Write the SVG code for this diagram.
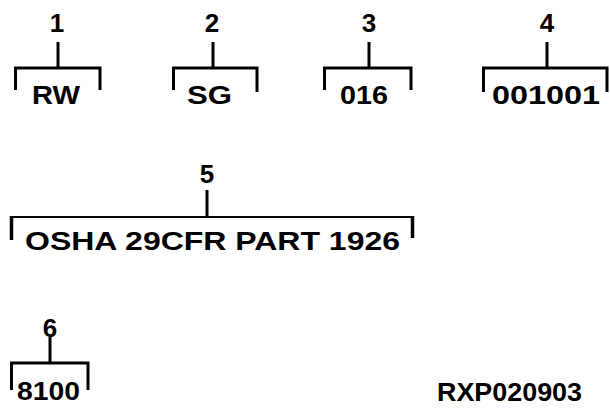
<svg xmlns="http://www.w3.org/2000/svg" width="610" height="409" viewBox="0 0 610 409">
<style>
text{font-family:"Liberation Sans",Arial,sans-serif;font-weight:bold;fill:#000}
.n{font-size:26px;text-anchor:middle}
.t{font-size:26px}
.br{fill:none;stroke:#000;stroke-width:3}
.leg{fill:none;stroke:#000;stroke-width:3.5}
.hz{stroke:#000;stroke-width:2}
.st{stroke:#000;stroke-width:3}
</style>
<rect width="610" height="409" fill="#fff"/>
<g id="connectors">
<line class="st" x1="58" y1="42" x2="58" y2="68"/>
<line class="st" x1="213" y1="42" x2="213" y2="68"/>
<line class="st" x1="369" y1="42" x2="369" y2="68"/>
<line class="st" x1="547" y1="42" x2="547" y2="68"/>
<line class="st" x1="207" y1="190" x2="207" y2="217"/>
<line class="st" x1="50" y1="337" x2="50" y2="363"/>
</g>
<g id="node1">
<text class="n" x="57" y="32">1</text>
<path class="br" d="M15.500,90 V68 H100 V90"/>
<text class="t" x="32" y="104" textLength="48" lengthAdjust="spacingAndGlyphs">RW</text>
</g>
<g id="node2">
<text class="n" x="212" y="32">2</text>
<path class="br" d="M173.500,90 V68 H257 V92"/>
<text class="t" x="187" y="104" textLength="45" lengthAdjust="spacingAndGlyphs">SG</text>
</g>
<g id="node3">
<text class="n" x="369" y="32">3</text>
<path class="br" d="M324.500,90 V68 H411 V90"/>
<text class="t" x="340" y="104" textLength="48" lengthAdjust="spacingAndGlyphs">016</text>
</g>
<g id="node4">
<text class="n" x="547" y="32">4</text>
<path class="br" d="M483.500,92 V68 H607 V92"/>
<text class="t" x="492" y="104" textLength="108" lengthAdjust="spacingAndGlyphs">001001</text>
</g>
<g id="node5">
<text class="n" x="207" y="183">5</text>
<line class="hz" x1="11" y1="217" x2="413" y2="217"/>
<path class="leg" d="M11.500,216 V240 M412.500,216 V238"/>
<text class="t" x="25" y="250" textLength="375" lengthAdjust="spacingAndGlyphs">OSHA 29CFR PART 1926</text>
</g>
<g id="node6">
<text class="n" x="50" y="337">6</text>
<path class="br" d="M11.500,390 V363 H88 V390"/>
<text class="t" x="17" y="400" textLength="63" lengthAdjust="spacingAndGlyphs">8100</text>
</g>
<text class="t" x="437" y="401" textLength="145" lengthAdjust="spacingAndGlyphs">RXP020903</text>
</svg>
